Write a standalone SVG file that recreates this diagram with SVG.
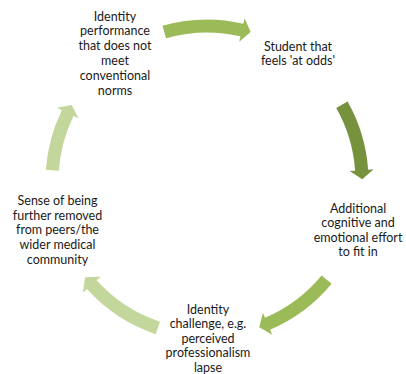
<svg xmlns="http://www.w3.org/2000/svg" width="406" height="374" viewBox="0 0 406 374">
  <style>
    .label { font-family: Lato, "Liberation Sans", sans-serif; font-size: 12.5px; fill: #1a1a1a; text-anchor: middle; }
    .a-mid { fill: #9BBB59; }
    .a-dark { fill: #76923C; }
    .a-light { fill: #C3D69B; }
  </style>
  <rect width="406" height="374" fill="#ffffff"/>

  <!-- curved block arrows around the cycle (centre 207,181, radius 155) -->
  <g id="connectors">
    <path class="a-mid" d="M162.5,25.75 A161.5,161.5 0 0 1 243.34,23.64 L244.58,18.28 L250.65,32.0 L239.18,41.66 L240.41,36.30 A148.5,148.5 0 0 0 166.07,38.25 Z"/>
    <path class="a-dark" d="M347.57,101.48 A161.5,161.5 0 0 1 368.11,169.73 L373.59,169.35 L362.25,179.17 L349.65,171.02 L355.14,170.64 A148.5,148.5 0 0 0 336.25,107.88 Z"/>
    <path class="a-mid" d="M331.61,283.73 A161.5,161.5 0 0 1 270.10,329.66 L272.25,334.72 L259.28,327.2 L262.87,312.63 L265.02,317.69 A148.5,148.5 0 0 0 321.58,275.46 Z"/>
    <path class="a-light" d="M155.76,334.15 A161.5,161.5 0 0 1 86.99,289.06 L82.90,292.74 L85.1,277.3 L100.74,276.68 L96.65,280.36 A148.5,148.5 0 0 0 159.88,321.82 Z"/>
    <path class="a-light" d="M45.89,169.73 A161.5,161.5 0 0 1 61.85,110.20 L56.90,107.79 L71.64,104.96 L78.47,118.31 L73.53,115.90 A148.5,148.5 0 0 0 58.86,170.64 Z"/>
  </g>

  <g id="node-identity-performance">
    <text class="label" x="115" y="20.5">Identity</text>
    <text class="label" x="115" y="35.4">performance</text>
    <text class="label" x="115" y="50.3">that does not</text>
    <text class="label" x="115" y="65.1">meet</text>
    <text class="label" x="115" y="80">conventional</text>
    <text class="label" x="115" y="94.8">norms</text>
  </g>

  <g id="node-student-at-odds">
    <text class="label" x="298" y="50.5">Student that</text>
    <text class="label" x="298" y="65.2">feels 'at odds'</text>
  </g>

  <g id="node-additional-effort">
    <text class="label" x="358" y="212.5">Additional</text>
    <text class="label" x="358" y="227">cognitive and</text>
    <text class="label" x="358" y="241.5">emotional effort</text>
    <text class="label" x="358" y="256">to fit in</text>
  </g>

  <g id="node-identity-challenge">
    <text class="label" x="208" y="313.5">Identity</text>
    <text class="label" x="208" y="328">challenge, e.g.</text>
    <text class="label" x="208" y="342.5">perceived</text>
    <text class="label" x="208" y="357">professionalism</text>
    <text class="label" x="208" y="371.5">lapse</text>
  </g>

  <g id="node-further-removed">
    <text class="label" x="57.5" y="204.5">Sense of being</text>
    <text class="label" x="57.5" y="219.5">further removed</text>
    <text class="label" x="57.5" y="234.3">from peers/the</text>
    <text class="label" x="57.5" y="249.2">wider medical</text>
    <text class="label" x="57.5" y="263.5">community</text>
  </g>
</svg>
